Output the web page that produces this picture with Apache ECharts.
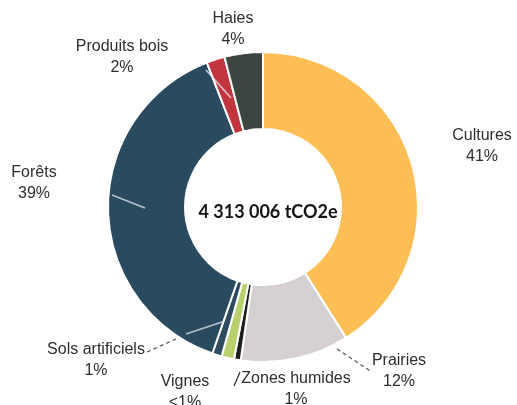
<!DOCTYPE html>
<html>
<head>
<meta charset="utf-8">
<script src="https://cdn.jsdelivr.net/npm/echarts@6/dist/echarts.min.js"></script>
<style>
html,body{margin:0;padding:0;background:#fff;}
#chart{width:517px;height:405px;}
</style>
</head>
<body>
<div id="chart"></div>
<script>
// ---- data ----
const categories = ['Cultures', 'Prairies', 'Zones humides', 'Vignes', 'Sols artificiels', 'Forêts', 'Produits bois', 'Haies'];
const shares = [41, 11.3, 0.7, 1.3, 1.0, 38.8, 1.9, 4.0];
const shareLabels = ['41%', '12%', '1%', '<1%', '1%', '39%', '2%', '4%'];
const totalLabel = '4 313 006 tCO2e';

// ---- styles / layout (annotation placement, not data) ----
const colors = ['#fdbf55', '#d6d0d5', '#1e1e1e', '#b9d06e', '#2d4c62', '#2a4a5f', '#c2353e', '#3d4541'];
const labelPos = [[482, 146], [399, 371], [296, 389], [185, 392], [96, 360], [34, 183], [122, 57], [233, 29]];
// outer (dark) leader segments
const leaderLines = [
  null,
  [[337, 349], [372, 372]],
  null,
  [[240, 372], [234, 386]],
  [[147, 352], [176, 339]],
  null, null, null
];
// light leader segments crossing the slices
const innerLines = [
  null, null, null, null,
  [[186, 334], [222, 322]],
  [[112, 195], [145, 208]],
  [[206, 70], [231, 98]],
  null
];
const darkDash = { color: '#555', width: 1.2, type: [4, 3] };
const leaderStyles = [null, darkDash, null, { color: '#333', width: 1.3, type: 'solid' }, darkDash, null, null, null];
const lightLine = { color: 'rgba(225,232,238,0.75)', width: 1.8, type: 'solid' };

const chart = echarts.init(document.getElementById('chart'));
chart.setOption({
  animation: false,
  backgroundColor: '#ffffff',
  title: {
    text: totalLabel,
    left: 263,
    top: 207,
    textAlign: 'center',
    textVerticalAlign: 'middle',
    textStyle: { fontFamily: 'Lato', fontWeight: 'bold', fontSize: 18, color: '#141414' }
  },
  series: [{
    type: 'pie',
    z: 2,
    center: [263, 207],
    radius: [78, 155],
    startAngle: 90,
    clockwise: true,
    avoidLabelOverlap: false,
    itemStyle: { borderColor: '#ffffff', borderWidth: 2 },
    label: {
      show: true,
      position: 'outside',
      fontFamily: 'Liberation Sans',
      fontSize: 16,
      lineHeight: 21,
      color: '#2e2e2e',
      formatter: p => p.name + '\n' + shareLabels[p.dataIndex]
    },
    labelLayout: p => {
      const o = { x: labelPos[p.dataIndex][0], y: labelPos[p.dataIndex][1], align: 'center', verticalAlign: 'middle' };
      if (leaderLines[p.dataIndex]) o.labelLinePoints = leaderLines[p.dataIndex];
      return o;
    },
    data: categories.map((c, i) => ({
      name: c,
      value: shares[i],
      itemStyle: { color: colors[i] },
      labelLine: { show: !!leaderLines[i], lineStyle: leaderStyles[i] || {} }
    }))
  }, {
    type: 'pie',
    z: 5,
    silent: true,
    center: [263, 207],
    radius: [78, 155],
    startAngle: 90,
    clockwise: true,
    avoidLabelOverlap: false,
    itemStyle: { color: 'rgba(0,0,0,0)', borderWidth: 0 },
    label: {
      show: true,
      position: 'outside',
      fontSize: 10,
      color: 'rgba(0,0,0,0)',
      formatter: '{b}'
    },
    labelLayout: p => {
      const o = { x: labelPos[p.dataIndex][0], y: labelPos[p.dataIndex][1], align: 'center', verticalAlign: 'middle' };
      if (innerLines[p.dataIndex]) o.labelLinePoints = innerLines[p.dataIndex];
      return o;
    },
    data: categories.map((c, i) => ({
      name: c,
      value: shares[i],
      labelLine: { show: !!innerLines[i], lineStyle: lightLine }
    }))
  }]
});
</script>
</body>
</html>
